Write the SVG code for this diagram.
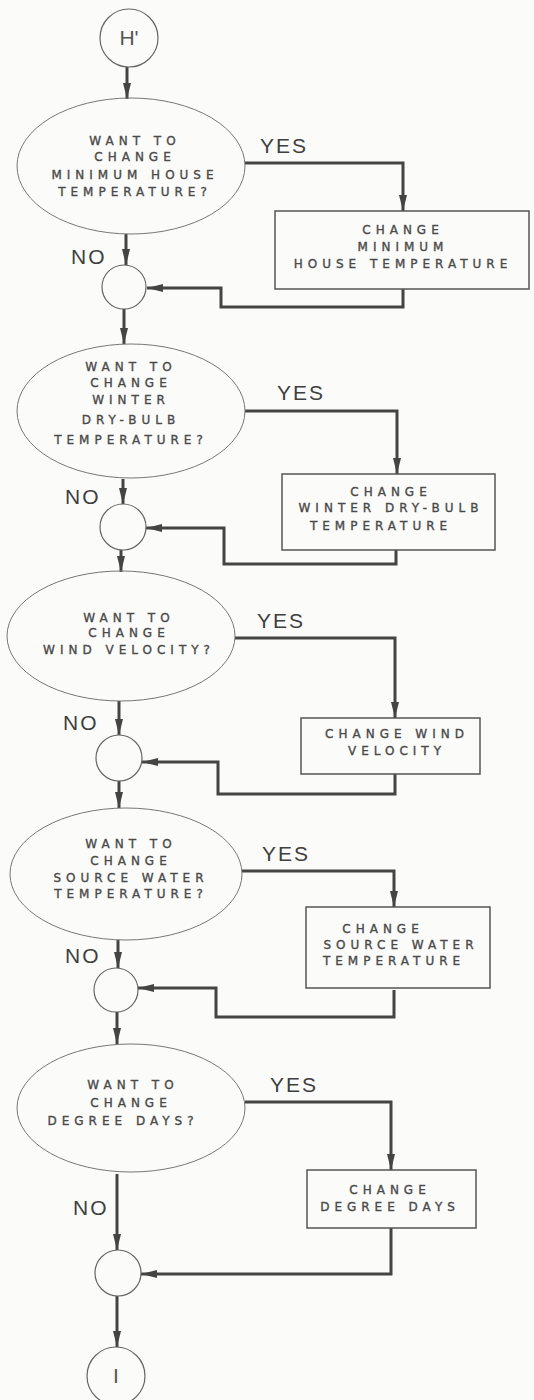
<svg xmlns="http://www.w3.org/2000/svg" width="534" height="1400" viewBox="0 0 534 1400">
  <style>
    .bg { fill: #fbfbf9; }
    .ell { fill: none; stroke: #777; stroke-width: 1; }
    .box { fill: none; stroke: #555; stroke-width: 1.5; }
    .jn { fill: none; stroke: #666; stroke-width: 1.2; }
    .t { font-family: "DejaVu Sans", sans-serif; font-size: 12px; letter-spacing: 5px; fill: #4a4a4a; stroke: #4a4a4a; stroke-width: 0.35; text-anchor: middle; }
    .lbl { font-family: "Liberation Sans", Arial, sans-serif; font-size: 21px; letter-spacing: 2px; fill: #3f3f3f; }
    .term { font-family: "Liberation Sans", Arial, sans-serif; font-size: 21px; fill: #555; text-anchor: middle; }
    .c { fill: none; stroke: #444; stroke-width: 3; stroke-linejoin: miter; }
  </style>
  <defs>
    <marker id="arr" markerUnits="userSpaceOnUse" markerWidth="16" markerHeight="8" refX="16" refY="4" orient="auto">
      <path d="M0,0 L16,4 L0,8 z" fill="#444"/>
    </marker>
  </defs>

  <rect class="bg" x="0" y="0" width="534" height="1400"/>

  <!-- connectors -->
  <g id="connectors">
    <path class="c" d="M127,67 V99" marker-end="url(#arr)"/>
    <path class="c" d="M245,163 H403 V211" marker-end="url(#arr)"/>
    <path class="c" d="M126,234 V265" marker-end="url(#arr)"/>
    <path class="c" d="M403,289 V307 H221 V288 H147" marker-end="url(#arr)"/>
    <path class="c" d="M124,309 V344" marker-end="url(#arr)"/>

    <path class="c" d="M245,411 H397 V474" marker-end="url(#arr)"/>
    <path class="c" d="M123,479 V504" marker-end="url(#arr)"/>
    <path class="c" d="M396,550 V564 H224 V528 H146" marker-end="url(#arr)"/>
    <path class="c" d="M121,550 V572" marker-end="url(#arr)"/>

    <path class="c" d="M235,638 H395 V718" marker-end="url(#arr)"/>
    <path class="c" d="M119,701 V735" marker-end="url(#arr)"/>
    <path class="c" d="M395,774 V794 H218 V762 H142" marker-end="url(#arr)"/>
    <path class="c" d="M119,781 V808" marker-end="url(#arr)"/>

    <path class="c" d="M242,871 H394 V907" marker-end="url(#arr)"/>
    <path class="c" d="M118,940 V968" marker-end="url(#arr)"/>
    <path class="c" d="M394,990 V1017 H216 V988 H138" marker-end="url(#arr)"/>
    <path class="c" d="M117,1012 V1044" marker-end="url(#arr)"/>

    <path class="c" d="M245,1102 H391 V1170" marker-end="url(#arr)"/>
    <path class="c" d="M117,1174 V1250" marker-end="url(#arr)"/>
    <path class="c" d="M391,1228 V1274 H141" marker-end="url(#arr)"/>
    <path class="c" d="M117,1296 V1347" marker-end="url(#arr)"/>

    <text class="lbl" x="260" y="153">YES</text>
    <text class="lbl" x="71" y="264">NO</text>
    <text class="lbl" x="277" y="400">YES</text>
    <text class="lbl" x="65" y="504">NO</text>
    <text class="lbl" x="257" y="628">YES</text>
    <text class="lbl" x="63" y="730">NO</text>
    <text class="lbl" x="262" y="861">YES</text>
    <text class="lbl" x="65" y="963">NO</text>
    <text class="lbl" x="270" y="1092">YES</text>
    <text class="lbl" x="73" y="1215">NO</text>
  </g>

  <!-- entry terminal -->
  <g id="start">
    <circle class="jn" cx="129" cy="38" r="29"/>
    <text class="term" x="129" y="45">H'</text>
  </g>

  <!-- decision 1 -->
  <g id="q-min-house">
    <ellipse class="ell" cx="131" cy="166" rx="114" ry="68"/>
    <text class="t" x="135" y="145">WANT TO</text>
    <text class="t" x="135" y="161">CHANGE</text>
    <text class="t" x="135" y="179">MINIMUM HOUSE</text>
    <text class="t" x="135" y="196">TEMPERATURE?</text>
  </g>
  <g id="set-min-house">
    <rect class="box" x="275" y="211" width="254" height="78"/>
    <text class="t" x="403" y="234">CHANGE</text>
    <text class="t" x="403" y="251">MINIMUM</text>
    <text class="t" x="403" y="268">HOUSE TEMPERATURE</text>
  </g>
  <g id="join-1"><circle class="jn" cx="124" cy="287" r="22"/></g>

  <!-- decision 2 -->
  <g id="q-dry-bulb">
    <ellipse class="ell" cx="131" cy="411" rx="114" ry="67"/>
    <text class="t" x="131" y="371">WANT TO</text>
    <text class="t" x="131" y="387">CHANGE</text>
    <text class="t" x="131" y="404">WINTER</text>
    <text class="t" x="131" y="424">DRY-BULB</text>
    <text class="t" x="131" y="444">TEMPERATURE?</text>
  </g>
  <g id="set-dry-bulb">
    <rect class="box" x="282" y="474" width="213" height="76"/>
    <text class="t" x="391" y="496">CHANGE</text>
    <text class="t" x="391" y="512">WINTER DRY-BULB</text>
    <text class="t" x="381" y="530">TEMPERATURE</text>
  </g>
  <g id="join-2"><circle class="jn" cx="123" cy="527" r="23"/></g>

  <!-- decision 3 -->
  <g id="q-wind">
    <ellipse class="ell" cx="121" cy="636" rx="114" ry="65"/>
    <text class="t" x="129" y="622">WANT TO</text>
    <text class="t" x="129" y="637">CHANGE</text>
    <text class="t" x="129" y="654">WIND VELOCITY?</text>
  </g>
  <g id="set-wind">
    <rect class="box" x="301" y="718" width="179" height="56"/>
    <text class="t" x="397" y="738">CHANGE WIND</text>
    <text class="t" x="397" y="755">VELOCITY</text>
  </g>
  <g id="join-3"><circle class="jn" cx="119" cy="758" r="23"/></g>

  <!-- decision 4 -->
  <g id="q-source-water">
    <ellipse class="ell" cx="126" cy="874" rx="116" ry="66"/>
    <text class="t" x="131" y="848">WANT TO</text>
    <text class="t" x="131" y="865">CHANGE</text>
    <text class="t" x="131" y="882">SOURCE WATER</text>
    <text class="t" x="131" y="898">TEMPERATURE?</text>
  </g>
  <g id="set-source-water">
    <rect class="box" x="306" y="907" width="184" height="81"/>
    <text class="t" x="383" y="933">CHANGE</text>
    <text class="t" x="401" y="949">SOURCE WATER</text>
    <text class="t" x="394" y="965">TEMPERATURE</text>
  </g>
  <g id="join-4"><circle class="jn" cx="116" cy="990" r="22"/></g>

  <!-- decision 5 -->
  <g id="q-degree-days">
    <ellipse class="ell" cx="131" cy="1108" rx="114" ry="64"/>
    <text class="t" x="133" y="1089">WANT TO</text>
    <text class="t" x="131" y="1107">CHANGE</text>
    <text class="t" x="123" y="1125">DEGREE DAYS?</text>
  </g>
  <g id="set-degree-days">
    <rect class="box" x="307" y="1170" width="169" height="58"/>
    <text class="t" x="390" y="1194">CHANGE</text>
    <text class="t" x="390" y="1211">DEGREE DAYS</text>
  </g>
  <g id="join-5"><circle class="jn" cx="118" cy="1273" r="23"/></g>

  <!-- exit terminal -->
  <g id="end">
    <circle class="jn" cx="116" cy="1376" r="29"/>
    <text class="term" x="116" y="1383">I</text>
  </g>
</svg>
